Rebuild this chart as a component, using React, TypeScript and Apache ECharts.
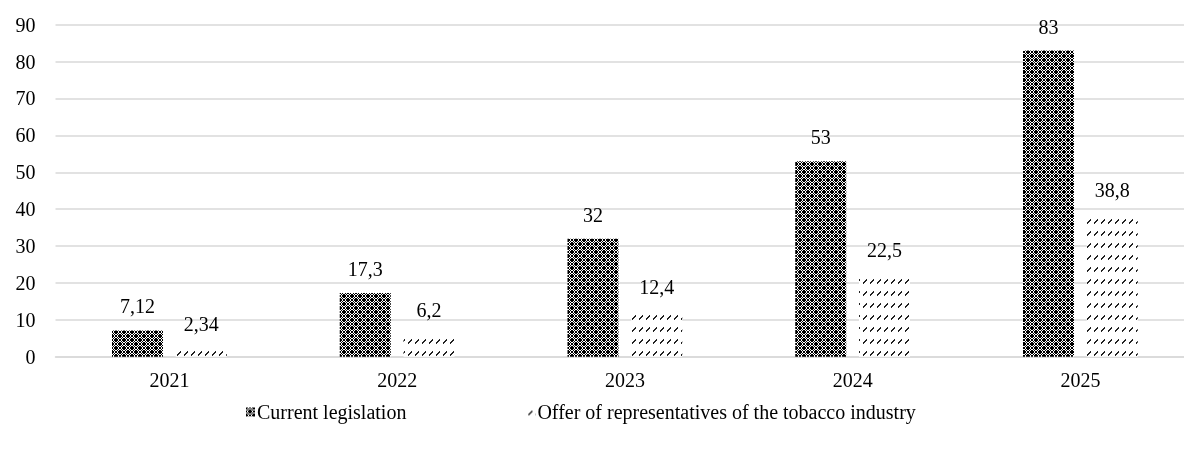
import React, { useEffect, useRef } from "react";
import * as echarts from "echarts";

const categories = ["2021", "2022", "2023", "2024", "2025"];
const currentLegislation = [7.12, 17.3, 32, 53, 83];
const tobaccoOffer = [2.34, 6.2, 12.4, 22.5, 38.8];
const seriesNames = ["Current legislation", "Offer of representatives of the tobacco industry"];

const checkerRows = [
  "XX.XX.XX",
  "X.X..X.X",
  ".X.XX.X.",
  "X.XXXX.X",
  "X.XXXX.X",
  ".X.XX.X.",
  "X.X..X.X",
  "XX.XX.XX",
];

const dashRows = [
  ".......",
  ".......",
  ".......",
  ".....X.",
  "....XX.",
  "...XX..",
  "..XX...",
  "..X....",
  ".......",
  ".......",
  ".......",
  ".......",
];

function makePattern(rows: string[], color: string) {
  const h = rows.length;
  const w = rows[0].length;
  const c = document.createElement("canvas");
  c.width = w;
  c.height = h;
  const ctx = c.getContext("2d")!;
  ctx.fillStyle = "#ffffff";
  ctx.fillRect(0, 0, w, h);
  ctx.fillStyle = color;
  rows.forEach((r, y) => {
    for (let x = 0; x < w; x++) if (r[x] === "X") ctx.fillRect(x, y, 1, 1);
  });
  return { image: c.toDataURL(), imageWidth: w, imageHeight: h, repeat: "repeat" } as any;
}

export default function App() {
  const ref = useRef<HTMLDivElement>(null);
  useEffect(() => {
    if (!ref.current) return;
    const chart = echarts.init(ref.current, undefined, { renderer: "svg" });
    const font = "'Liberation Serif', 'Times New Roman', serif";
    const fmt = (p: any) => String(p.value).replace(".", ",");
    chart.setOption({
      animation: false,
      textStyle: { fontFamily: font },
      grid: { left: 55.5, top: 24.7, width: 1138.75, height: 332, outerBoundsMode: "none", containLabel: false },
      legend: {
        bottom: 22,
        left: 241,
        itemWidth: 9,
        itemHeight: 9,
        itemGap: 120,
        icon: "rect",
        textStyle: { fontFamily: font, fontSize: 20, color: "#000", padding: [0, 0, 0, -3] },
        data: seriesNames,
      },
      xAxis: {
        type: "category",
        data: categories,
        axisTick: { show: false },
        axisLine: { lineStyle: { color: "#d9d9d9", width: 1.5 } },
        axisLabel: { fontFamily: font, fontSize: 20, color: "#000", margin: 13 },
      },
      yAxis: {
        type: "value",
        min: 0,
        max: 90,
        interval: 10,
        axisLine: { show: false },
        axisTick: { show: false },
        splitLine: { lineStyle: { color: "#d9d9d9", width: 1.5 } },
        axisLabel: { fontFamily: font, fontSize: 20, color: "#000", margin: 20 },
      },
      series: [
        {
          name: seriesNames[0],
          type: "bar",
          data: currentLegislation,
          barWidth: 51,
          barGap: "25%",
          itemStyle: { color: makePattern(checkerRows, "#000000") },
          label: { show: true, position: "top", distance: 14, fontFamily: font, fontSize: 20, color: "#000", formatter: fmt },
        },
        {
          name: seriesNames[1],
          type: "bar",
          data: tobaccoOffer,
          barWidth: 51,
          itemStyle: { color: makePattern(dashRows, "#222222") },
          label: { show: true, position: "top", distance: 14, fontFamily: font, fontSize: 20, color: "#000", formatter: fmt },
        },
      ],
    });
    return () => chart.dispose();
  }, []);
  return <div ref={ref} style={{ position: "fixed", left: 0, top: 0, width: 1184, height: 449 }} />;
}
